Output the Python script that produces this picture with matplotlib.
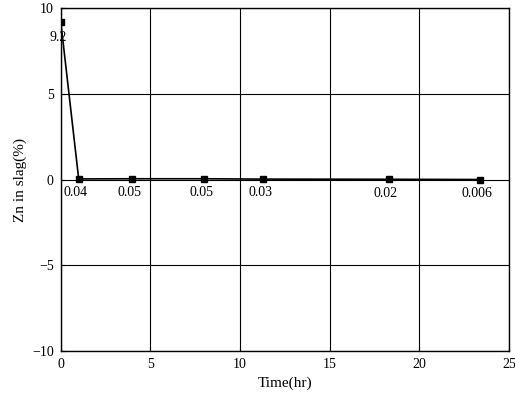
import matplotlib
matplotlib.use("Agg")
import matplotlib.pyplot as plt

# Zn content in slag over time
time_hr = [0, 1, 4, 8, 11.3, 18.3, 23.4]
zn_slag = [9.2, 0.04, 0.05, 0.05, 0.03, 0.02, 0.006]
point_labels = ["9.2", "0.04", "0.05", "0.05", "0.03", "0.02", "0.006"]

plt.rcParams['font.family'] = ['Liberation Serif', 'DejaVu Serif']

fig = plt.figure(figsize=(5.15, 4.05), dpi=100)
ax = fig.add_axes([0.118, 0.133, 0.870, 0.847])

ax.plot(time_hr, zn_slag, color='black', linewidth=1.2,
        marker='s', markersize=4.5, markerfacecolor='black')

for i, (x, y, lab) in enumerate(zip(time_hr, zn_slag, point_labels)):
    if i == 0:
        ax.annotate(lab, (x, y), xytext=(-2, -11), textcoords='offset points',
                    ha='center', va='center', fontsize=10)
    else:
        ax.annotate(lab, (x, y), xytext=(-2, -10), textcoords='offset points',
                    ha='center', va='center', fontsize=10)

ax.set_xlim(0, 25)
ax.set_ylim(-10, 10)
ax.set_xticks([0, 5, 10, 15, 20, 25])
ax.set_yticks([-10, -5, 0, 5, 10])
ax.grid(True, color='black', linewidth=0.8)
ax.tick_params(direction='in', length=3, labelsize=10, pad=5)
for s in ax.spines.values():
    s.set_linewidth(1.0)

ax.set_xlabel('Time(hr)', fontsize=11)
ax.set_ylabel('Zn in slag(%)', fontsize=11)

fig.savefig('out.png', dpi=100)
